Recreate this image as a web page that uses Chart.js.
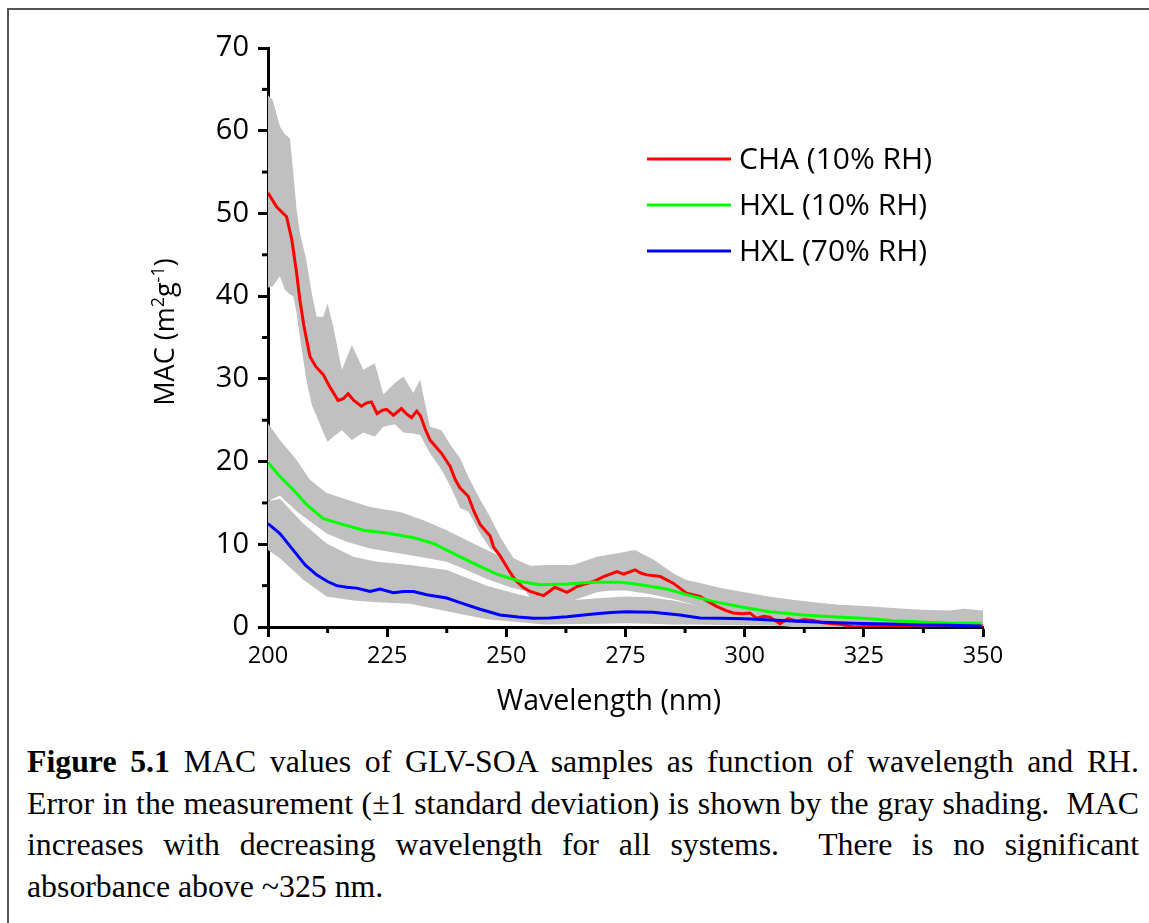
<!DOCTYPE html>
<html>
<head>
<meta charset="utf-8">
<script src="https://cdn.jsdelivr.net/npm/chart.js@4"></script>
<style>
  html, body { margin: 0; padding: 0; background: #fff; }
  body { width: 1149px; height: 923px; position: relative; overflow: hidden; }
  #frame { position: absolute; left: 7px; top: 8px; width: 1300px; height: 1000px;
           border-left: 2px solid #555; border-top: 2px solid #555; }
  #chart { position: absolute; left: 0; top: 0; }
  .cap { position: absolute; left: 27px; top: 741px; width: 1112px;
         font-family: "Liberation Serif", "Times New Roman", serif; font-size: 31.8px;
         line-height: 41.5px; color: #000; }
  .j { text-align: justify; text-align-last: justify; }
</style>
</head>
<body>
<div id="frame"></div>
<canvas id="chart" width="1149" height="735"></canvas>
<div class="cap">
  <div class="j"><b>Figure 5.1</b> MAC values of GLV-SOA samples as function of wavelength and RH.</div>
  <div class="j">Error in the measurement (±1 standard deviation) is shown by the gray shading.&nbsp; MAC</div>
  <div class="j">increases with decreasing wavelength for all systems.&nbsp; There is no significant</div>
  <div>absorbance above ~325 nm.</div>
</div>
<script>
// CHA (10% RH) mean curve
const chaWl = [200, 201.8, 203.9, 205, 206, 206.7, 207.5, 208.8, 210, 211.6, 213, 214.7, 215.8, 216.8, 218, 219.6,
  220.7, 221.7, 222.9, 224, 224.9, 226.3, 228, 229, 230.1, 231.2, 232, 233, 234, 236.4, 238.2, 239.3, 240.3, 242,
  243.2, 244.5, 246.6, 247.3, 248.7, 250.8, 252, 253.5, 255, 257.8, 259, 260.2, 261.5, 262.7, 264, 264.8, 266.5,
  268.3, 270.4, 271.8, 273.2, 274.6, 277, 278.3, 279.5, 282.3, 285, 287.8, 290.6, 292.3, 294.1, 296, 297.6, 299.5,
  301.1, 302.5, 304, 305.3, 307.4, 309.1, 311, 312.5, 314.4, 316.5, 318.6, 320.5, 322.8, 326, 330, 333, 336, 340,
  343, 346, 350];
const chaMac = [52.5, 50.8, 49.6, 46.8, 42.8, 39.5, 36.5, 32.7, 31.5, 30.5, 29, 27.4, 27.6, 28.2, 27.4, 26.7,
  27.1, 27.2, 25.8, 26.2, 26.3, 25.6, 26.4, 25.8, 25.3, 26.1, 25.5, 23.9, 22.6, 21, 19.4, 17.8, 16.8, 15.8,
  14, 12.4, 11, 9.7, 8.6, 6.6, 5.6, 4.8, 4.3, 3.8, 4.3, 4.8, 4.5, 4.2, 4.6, 4.9, 5.2,
  5.5, 6.1, 6.4, 6.7, 6.4, 6.9, 6.5, 6.3, 6.1, 5.3, 4.1, 3.7, 3.1, 2.5, 2.0, 1.7, 1.6,
  1.7, 1.05, 1.3, 1.2, 0.4, 1.0, 0.7, 0.9, 0.8, 0.5, 0.4, 0.3, 0.0, 0.1, 0.2, 0.1, 0.2, 0.2,
  0.1, 0.2, 0.1];

// CHA (10% RH) +/- 1 SD
const chaBandWl = [200, 201, 202.5, 203.5, 204.6, 205.3, 206, 206.7, 208, 209.2, 210.2, 211.6, 212.5, 213.7, 215.5,
  217.6, 220, 222.4, 224.2, 226.6, 228.4, 230.5, 231.9, 234, 236.4, 238.3, 240.3, 242, 244.5, 246.6, 248.7, 251.5,
  255, 259, 264, 269, 273, 277, 281, 285, 289, 295, 300, 310, 320, 335, 350];
const chaHi = [64.3, 63.7, 60.5, 59.6, 59.1, 54.9, 50.5, 47.6, 44.5, 40.3, 37.5, 37.5, 39.1, 36.3, 31.1,
  34.1, 31.1, 31.9, 28.1, 29.5, 30.3, 28.3, 29.9, 24.2, 23.8, 22.0, 20.4, 18.2, 15.4, 13.3, 10.9, 8.3,
  7.4, 7.5, 7.5, 8.5, 8.9, 9.3, 8.1, 6.5, 5.3, 4.0, 3.0, 2.0, 1.6, 1.2, 1.0];
const chaLo = [41, 41.2, 42.4, 40.8, 40.2, 40, 38, 35, 30, 26.8, 25.5, 23.5, 22.4, 23, 23.8,
  22.6, 23.5, 23.0, 24.2, 24.5, 23.5, 23.4, 23.2, 21, 19, 17, 14.4, 14, 11.3, 9.5, 8.5, 6.5,
  3.5, 2.5, 3.2, 4.2, 4.5, 4.6, 4.3, 3.6, 2.8, 1.3, 0.5, 0, 0, 0, 0];

// HXL (10% RH)
const hxl10Wl = [200, 202.5, 205.3, 208.1, 211.6, 215.1, 220, 225.6, 230.5, 234.7, 239.6, 243.8, 248, 250.8, 253,
  257.1, 262.7, 268.3, 273.8, 276, 279.5, 283.6, 289.2, 293.4, 299, 305.3, 312.3, 319.3, 324.9, 331.2, 338.2,
  343.8, 349.7];
const hxl10Mac = [19.9, 18.2, 16.6, 14.8, 13.1, 12.5, 11.7, 11.3, 10.8, 10.1, 8.7, 7.5, 6.4, 5.9, 5.5,
  5.1, 5.2, 5.4, 5.4, 5.3, 5.0, 4.6, 3.7, 3.1, 2.45, 1.85, 1.45, 1.2, 1.05, 0.77, 0.57,
  0.45, 0.45];
const hxl10BandWl = [200, 202.5, 206, 208.8, 212.3, 216.5, 221.4, 227.7, 232.6, 237.5, 241.7, 245.9, 250.8, 255,
  260, 265, 270, 275, 280, 285, 290, 295, 300, 305, 310, 316, 320, 326, 331, 337, 343, 346, 350];
const hxl10Hi = [24.6, 22.6, 20.2, 17.8, 16.2, 15.4, 14.5, 13.9, 12.9, 11.7, 10.5, 9.3, 8.0, 7.0,
  6.8, 6.8, 6.9, 6.9, 6.6, 6.0, 5.4, 4.7, 4.2, 3.7, 3.3, 2.9, 2.7, 2.5, 2.3, 2.1, 2.0, 2.2, 2.0];
const hxl10Lo = [15.2, 15.9, 14.0, 12.8, 11.3, 10.3, 9.5, 8.9, 8.4, 7.9, 6.9, 5.8, 4.8, 4.2,
  4.0, 4.1, 4.4, 4.4, 4.0, 3.4, 2.6, 1.9, 1.5, 1.2, 0.9, 0.7, 0.6, 0.45, 0.3, 0.2, 0.2, 0.15, 0.1];

// HXL (70% RH)
const hxl70Wl = [200, 202.5, 205.3, 207.8, 210.2, 212.5, 214.4, 216.5, 218.6, 220, 221.4, 223.5, 226.3, 228.5,
  230.5, 233.3, 237.5, 240.3, 244.5, 248.7, 252.5, 255.7, 259, 262.7, 268.3, 272, 275.2, 280.8, 286.4, 290.6,
  295, 300, 308.8, 315, 322.8, 330, 336.8, 343, 349.7];
const hxl70Mac = [12.5, 11.3, 9.3, 7.5, 6.3, 5.5, 5.0, 4.8, 4.7, 4.5, 4.3, 4.6, 4.15, 4.3,
  4.3, 3.9, 3.5, 2.95, 2.15, 1.45, 1.2, 1.05, 1.1, 1.25, 1.57, 1.75, 1.85, 1.78, 1.45, 1.1,
  1.05, 1.0, 0.77, 0.6, 0.45, 0.35, 0.24, 0.2, 0.12];
const hxl70BandWl = [200, 202.5, 207.4, 212.3, 217.9, 222.8, 229.8, 237.5, 245.9, 252.2, 258, 265, 270, 275, 280,
  285, 290, 295, 300, 310, 320, 330, 340, 350];
const hxl70Hi = [15.2, 15.5, 12.5, 10.1, 8.5, 7.9, 7.5, 6.9, 5.0, 4.0, 3.2, 3.3, 3.5, 3.7, 3.6,
  3.2, 2.6, 2.2, 1.9, 1.6, 1.3, 1.0, 0.8, 0.7];
const hxl70Lo = [9.3, 8.3, 5.7, 3.7, 3.2, 3.0, 2.8, 1.9, 0.95, 0.6, 0.3, 0.35, 0.4, 0.45, 0.4,
  0.3, 0.3, 0.25, 0.2, 0.15, 0.1, 0.05, 0, 0];

const xTicks = [200, 225, 250, 275, 300, 325, 350];
const yTicks = [0, 10, 20, 30, 40, 50, 60, 70];
const seriesNames = ['CHA (10% RH)', 'HXL (10% RH)', 'HXL (70% RH)'];

const GRAY = '#c0c0c0';
const FONT = '"Open Sans"';
const pts = (xs, ys) => xs.map((x, i) => ({ x: x, y: ys[i] }));

function bandSets(xs, hi, lo) {
  return [
    { label: 'hi', data: pts(xs, hi), borderWidth: 0, pointRadius: 0, fill: false, order: 10 },
    { label: 'lo', data: pts(xs, lo), borderWidth: 0, pointRadius: 0, fill: '-1',
      backgroundColor: GRAY, order: 10 }
  ];
}
function lineSet(name, xs, ys, color, ord) {
  return { label: name, data: pts(xs, ys), borderColor: color, backgroundColor: color,
    borderWidth: 3, pointRadius: 0, fill: false, tension: 0, order: ord };
}

// minor ticks, legend and axis titles
const extras = {
  id: 'extras',
  afterDraw(chart) {
    const ctx = chart.ctx;
    const xs = chart.scales.x, ys = chart.scales.y;
    const a = chart.chartArea;
    ctx.save();
    ctx.strokeStyle = '#000';
    ctx.lineWidth = 3;
    for (let v = 5; v < 70; v += 10) {
      const py = ys.getPixelForValue(v);
      ctx.beginPath(); ctx.moveTo(a.left, py); ctx.lineTo(a.left - 6, py); ctx.stroke();
    }
    for (let v = 212.5; v < 350; v += 25) {
      const px = xs.getPixelForValue(v);
      ctx.beginPath(); ctx.moveTo(px, a.bottom); ctx.lineTo(px, a.bottom + 6); ctx.stroke();
    }

    // legend
    const colors = ['#ff0000', '#00ff00', '#0000ff'];
    const rows = [159, 205, 251];
    ctx.font = '30px ' + FONT;
    ctx.textBaseline = 'middle';
    ctx.fillStyle = '#000';
    seriesNames.forEach((n, i) => {
      ctx.strokeStyle = colors[i];
      ctx.lineWidth = 3;
      ctx.beginPath(); ctx.moveTo(647, rows[i]); ctx.lineTo(731, rows[i]); ctx.stroke();
      ctx.fillText(n, 739, rows[i] + 1);
    });

    // x axis title
    ctx.font = '28.5px ' + FONT;
    ctx.textAlign = 'center';
    ctx.fillText('Wavelength (nm)', 609, 702);
    ctx.textAlign = 'left';

    // y axis title
    const parts = [['MAC (m', 0], ['2', 1], ['g', 0], ['-1', 1], [')', 0]];
    const big = '27px ' + FONT, small = '18px ' + FONT;
    let total = 0;
    parts.forEach(p => { ctx.font = p[1] ? small : big; total += ctx.measureText(p[0]).width; });
    ctx.translate(165, 332);
    ctx.rotate(-Math.PI / 2);
    ctx.textBaseline = 'alphabetic';
    let x = -total / 2;
    parts.forEach(p => {
      ctx.font = p[1] ? small : big;
      ctx.fillText(p[0], x, p[1] ? -1 : 9);
      x += ctx.measureText(p[0]).width;
    });
    ctx.restore();
  }
};

const CANVAS_H = 735;
new Chart(document.getElementById('chart'), {
  type: 'line',
  data: {
    datasets: [
      ...bandSets(chaBandWl, chaHi, chaLo),
      ...bandSets(hxl10BandWl, hxl10Hi, hxl10Lo),
      ...bandSets(hxl70BandWl, hxl70Hi, hxl70Lo),
      lineSet(seriesNames[0], chaWl, chaMac, '#ff0000', 3),
      lineSet(seriesNames[1], hxl10Wl, hxl10Mac, '#00ff00', 2),
      lineSet(seriesNames[2], hxl70Wl, hxl70Mac, '#0000ff', 1)
    ]
  },
  options: {
    responsive: false,
    animation: false,
    layout: { padding: { left: 0, top: 48, right: 166, bottom: 0 } },
    plugins: { legend: { display: false }, tooltip: { enabled: false } },
    scales: {
      x: {
        type: 'linear', min: 200, max: 350,
        afterFit: s => { s.height = CANVAS_H - 627; },
        afterBuildTicks: s => { s.ticks = xTicks.map(v => ({ value: v })); },
        ticks: { color: '#000', font: { family: FONT, size: 23.5 }, padding: 5, maxRotation: 0 },
        grid: { drawOnChartArea: false, tickLength: 10, tickWidth: 3, tickColor: '#000' },
        border: { display: true, width: 3, color: '#000' }
      },
      y: {
        min: 0, max: 70,
        afterFit: s => { s.width = 268; },
        afterBuildTicks: s => { s.ticks = yTicks.map(v => ({ value: v })); },
        ticks: { color: '#000', font: { family: FONT, size: 29 }, padding: 9 },
        grid: { drawOnChartArea: false, tickLength: 10, tickWidth: 3, tickColor: '#000' },
        border: { display: true, width: 3, color: '#000' }
      }
    }
  },
  plugins: [extras]
});
</script>
</body>
</html>
